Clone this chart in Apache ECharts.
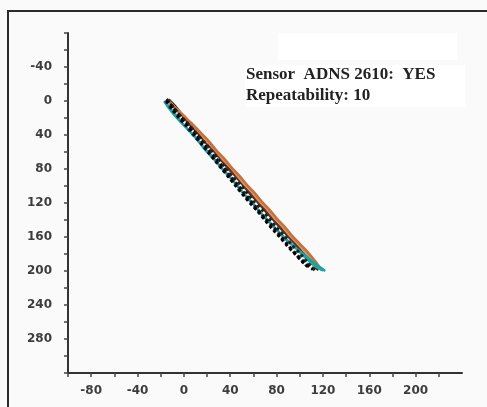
<!DOCTYPE html>
<html>
<head>
<meta charset="utf-8">
<script src="https://cdn.jsdelivr.net/npm/echarts@6/dist/echarts.min.js"></script>
<style>html,body{margin:0;padding:0;background:#fafafa}#c{width:487px;height:407px}</style>
</head>
<body>
<div id="c"></div>
<script>
// Repeated trajectories [x, y]
var runTeal = [[-17,0],[-12,10],[-6,20],[1,30],[8,40],[14,50],[20,60],[27,70],[33,80],[40,90],[46,100],[52,110],[59,120],[65,130],[72,140],[79,150],[86,160],[94,170],[103,180],[112,190],[122,200]];
var runOrange = [[-15,-2],[-8,8],[0,18],[8,28],[15,38],[22,48],[28,58],[35,68],[41,78],[48,88],[54,98],[61,108],[67,118],[74,128],[80,138],[87,148],[93,158],[100,168],[107,178],[113,188],[119,199]];
var runOrange2 = [[-14,-2],[-7,8],[1,18],[7,28],[14,38],[20,48],[27,58],[33,68],[40,78],[46,88],[52,98],[59,108],[65,118],[72,128],[78,138],[85,148],[91,158],[98,168],[105,178],[111,188],[117,198]];
var runBlack1 = [[-15,-2],[-9,8],[-3,18],[4,28],[10,38],[16,48],[22,58],[28,68],[34,78],[40,88],[46,98],[52,108],[58,118],[64,128],[70,138],[77,148],[83,158],[89,168],[95,178],[102,188],[108,197]];
var runBlack2 = [[-14,-1],[-8,9],[-2,19],[5,29],[11,39],[18,49],[24,59],[30,69],[36,79],[42,89],[49,99],[55,109],[61,119],[68,129],[74,139],[80,149],[87,159],[93,169],[100,179],[106,189],[113,199]];
var runBlue = [[-16,0],[-10,10],[-4,20],[2,30],[8,40],[15,50],[21,60],[27,70],[33,80],[39,90],[45,100],[51,110],[58,120],[64,130],[70,140],[77,150],[83,160],[90,170],[97,180],[105,190],[114,200]];
var runBlack3 = [[-13,-2],[-6,8],[0,18],[7,28],[13,38],[20,48],[26,58],[32,68],[38,78],[45,88],[51,98],[57,108],[63,118],[70,128],[76,138],[83,148],[89,158],[96,168],[102,178],[109,188],[115,198]];
var runTeal2 = [[-16,1],[-10,11],[-4,21],[2,31],[9,41],[15,51],[22,61],[28,71],[34,81],[41,91],[47,101],[53,111],[60,121],[66,131],[73,141],[80,151],[87,161],[95,171],[102,181],[110,191],[120,200]];
var runBrown = [[-14,-1],[-7,9],[0,19],[6,29],[13,39],[19,49],[26,59],[32,69],[38,79],[45,89],[51,99],[57,109],[64,119],[70,129],[77,139],[83,149],[90,159],[97,169],[103,179],[110,189],[116,199]];
var runBlack4 = [[-15,0],[-10,10],[-4,20],[3,30],[9,40],[15,50],[21,60],[27,70],[33,80],[39,90],[45,100],[51,110],[57,120],[64,130],[70,140],[76,150],[83,160],[89,170],[96,180],[103,190],[111,198]];

var xTickLabels = [-80,-40,0,40,80,120,160,200];
var yTickLabels = [-40,0,40,80,120,160,200,240,280];
var annotation = ['Sensor  ADNS 2610:  YES', 'Repeatability: 10'];

var chart = echarts.init(document.getElementById('c'), null, {renderer:'canvas'});

function mk(data, color, width, type, z) {
  return {type:'line', data:data, showSymbol:false, smooth:0.3, z:z||2,
    lineStyle:{color:color, width:width, type:type||'solid'}, animation:false};
}

var axisCommon = {
  axisLine:{show:true, onZero:false, lineStyle:{color:'#333', width:2}},
  axisTick:{show:true, length:4, lineStyle:{color:'#444', width:1.5}},
  splitLine:{show:false},
  axisLabel:{color:'#3d3d3d', fontSize:12, fontWeight:'bold', fontFamily:'DejaVu Sans'}
};

chart.setOption({
  backgroundColor:'#fafafa',
  animation:false,
  grid:{left:68, right:25, top:33, bottom:34},
  xAxis:Object.assign({}, axisCommon, {
    type:'value', min:-100, max:240, interval:20,
    axisLabel:Object.assign({}, axisCommon.axisLabel, {margin:12, showMaxLabel:false,
      formatter:function(v){ return xTickLabels.indexOf(v) >= 0 ? String(v) : ''; }})
  }),
  yAxis:Object.assign({}, axisCommon, {
    type:'value', inverse:true, min:-80, max:320, interval:20,
    axisLabel:Object.assign({}, axisCommon.axisLabel, {margin:16,
      formatter:function(v){ return yTickLabels.indexOf(v) >= 0 ? String(v) : ''; }})
  }),
  graphic:[
    {type:'rect', shape:{x:8, y:11, width:490, height:410}, style:{fill:'none', stroke:'#2b2b2b', lineWidth:2}, z:0},
    {type:'rect', shape:{x:278, y:33, width:179, height:27}, style:{fill:'#ffffff'}, z:0, silent:true},
    {type:'rect', shape:{x:245, y:65, width:220, height:42}, style:{fill:'#ffffff'}, z:0, silent:true},
    {type:'text', x:246, y:75, style:{text:annotation[0], fill:'#222', font:'bold 17px "Liberation Serif"', textVerticalAlign:'middle'}, z:10},
    {type:'text', x:246, y:96, style:{text:annotation[1], fill:'#222', font:'bold 17px "Liberation Serif"', textVerticalAlign:'middle'}, z:10}
  ],
  series:[
    mk(runBlack3, '#1a1a1a', 2),
    mk(runBrown, '#5a3320', 2.5),
    mk(runOrange2, '#d9936a', 2),
    mk(runOrange, '#c8703c', 2.5),
    mk(runTeal2, '#22b08e', 2),
    mk(runTeal, '#1aa3a8', 2.5),
    mk(runBlue, '#1f4f80', 3, 'dotted', 3),
    mk(runBlack1, '#111', 3, 'dotted', 3),
    mk(runBlack2, '#222', 3, 'dotted', 3),
    mk(runBlack4, '#000', 3, 'dotted', 3)
  ]
});
</script>
</body>
</html>
